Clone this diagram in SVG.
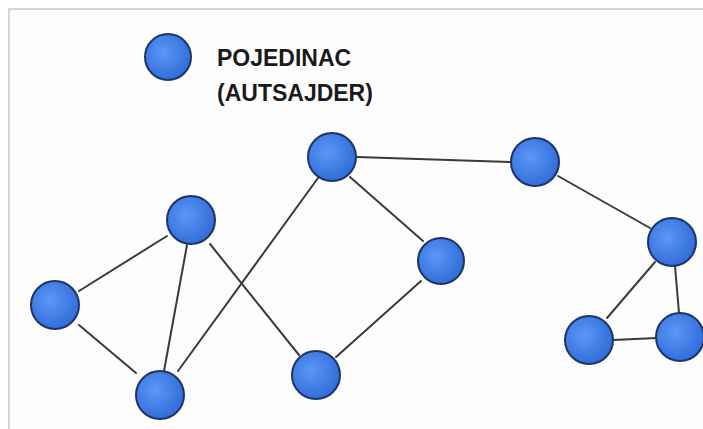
<svg xmlns="http://www.w3.org/2000/svg" width="703" height="429" viewBox="0 0 703 429">
<defs>
<radialGradient id="g" cx="0.4" cy="0.4" r="0.65">
<stop offset="0" stop-color="#5b98f5"/>
<stop offset="1" stop-color="#2f6ad8"/>
</radialGradient>
<style>
.n{fill:url(#g);stroke:#1d3566;stroke-width:2}
.e{stroke:#3a3a3a;stroke-width:2;fill:none;stroke-linecap:round}
.t{font-family:"Liberation Sans",Arial,sans-serif;font-weight:bold;font-size:23px;fill:#1a1a1a}
</style>
</defs>
<rect width="703" height="429" fill="#ffffff"/>
<rect x="9" y="9" width="700" height="430" fill="#fdfdfd" stroke="#c8c8c8" stroke-width="1.5"/>
<g id="legend">
<circle class="n" cx="168" cy="57" r="23"/>
<text class="t" x="217" y="66">POJEDINAC</text>
<text class="t" x="217" y="101">(AUTSAJDER)</text>
</g>
<g id="connectors">
<line class="e" x1="79" y1="291" x2="167" y2="236"/>
<line class="e" x1="79" y1="325" x2="136" y2="373"/>
<line class="e" x1="187" y1="245" x2="164" y2="371"/>
<line class="e" x1="210" y1="244" x2="299" y2="355"/>
<line class="e" x1="178" y1="371" x2="318" y2="178"/>
<line class="e" x1="357" y1="157" x2="510" y2="162"/>
<line class="e" x1="350" y1="177" x2="423" y2="241"/>
<line class="e" x1="421" y1="281" x2="336" y2="357"/>
<line class="e" x1="558" y1="176" x2="650" y2="228"/>
<line class="e" x1="655" y1="262" x2="607" y2="318"/>
<line class="e" x1="675" y1="266" x2="679" y2="313"/>
<line class="e" x1="613" y1="340" x2="657" y2="338"/>
</g>
<g id="nA"><circle class="n" cx="191" cy="220" r="24"/></g>
<g id="nB"><circle class="n" cx="55" cy="305" r="24"/></g>
<g id="nC"><circle class="n" cx="160" cy="395" r="24"/></g>
<g id="nD"><circle class="n" cx="332" cy="157" r="24"/></g>
<g id="nE"><circle class="n" cx="535" cy="162" r="24"/></g>
<g id="nF"><circle class="n" cx="441" cy="261" r="23"/></g>
<g id="nG"><circle class="n" cx="316" cy="375" r="24"/></g>
<g id="nH"><circle class="n" cx="672" cy="242" r="24"/></g>
<g id="nI"><circle class="n" cx="589" cy="340" r="24"/></g>
<g id="nJ"><circle class="n" cx="680" cy="337" r="24"/></g>
</svg>
